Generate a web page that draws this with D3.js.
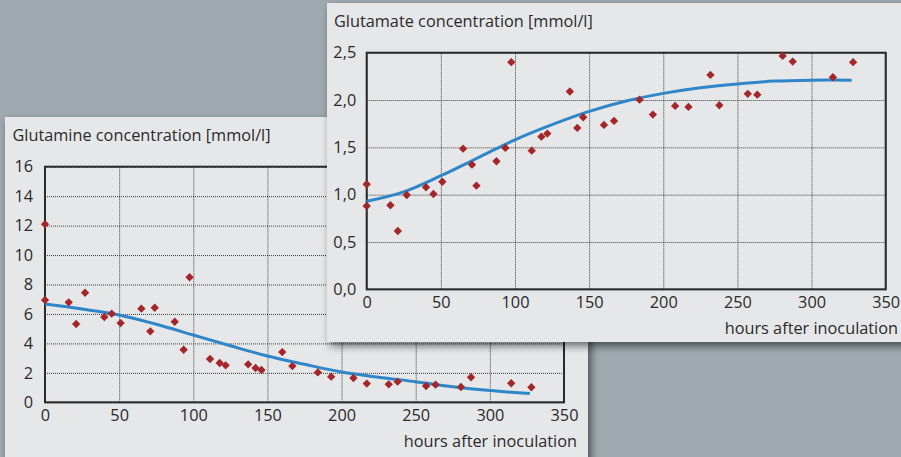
<!DOCTYPE html>
<html>
<head>
<meta charset="utf-8">
<script src="https://cdn.jsdelivr.net/npm/d3@7"></script>
<style>
  html, body { margin: 0; padding: 0; background: #9eaab0; }
  svg { display: block; }
  text { font-family: "Open Sans", "Noto Sans", sans-serif; fill: #2a2a2a; }
</style>
</head>
<body>
<svg id="chart" width="901" height="457"></svg>
<script>
// ---------------- data ----------------
const hours = [0, 0, 16, 21, 27, 40, 45, 51, 65, 71, 74, 87.5, 93.5, 97.5, 111.3, 117.8, 121.8, 137, 142, 146, 160, 166.8, 184, 193, 208, 217, 231.8, 237.8, 257, 263.4, 280.5, 287.3, 314.4, 328];
const glutamine = [12.1, 6.94, 6.79, 5.32, 7.44, 5.79, 6.02, 5.38, 6.36, 4.82, 6.42, 5.47, 3.57, 8.49, 2.94, 2.67, 2.51, 2.58, 2.33, 2.19, 3.41, 2.46, 2.03, 1.74, 1.65, 1.27, 1.22, 1.40, 1.11, 1.20, 1.04, 1.70, 1.29, 1.02];
const glutamate = [1.11, 0.88, 0.888, 0.616, 0.997, 1.078, 1.007, 1.137, 1.486, 1.317, 1.095, 1.353, 1.494, 2.40, 1.465, 1.613, 1.645, 2.09, 1.705, 1.818, 1.737, 1.779, 2.004, 1.846, 1.938, 1.927, 2.265, 1.945, 2.065, 2.057, 2.466, 2.406, 2.24, 2.40];

const fitHours = [0, 25, 50, 75, 100, 125, 150, 175, 200, 225, 250, 275, 300, 327];
const glutamineFit = [6.67, 6.33, 5.93, 5.30, 4.57, 3.84, 3.14, 2.58, 2.06, 1.70, 1.40, 1.06, 0.80, 0.59];
const glutamateFit = [0.93, 1.03, 1.20, 1.39, 1.58, 1.74, 1.88, 1.99, 2.07, 2.13, 2.17, 2.20, 2.21, 2.21];

const xTicks = [0, 50, 100, 150, 200, 250, 300, 350];
const glutamineTicks = [0, 2, 4, 6, 8, 10, 12, 14, 16];
const glutamateTicks = [0, 0.5, 1.0, 1.5, 2.0, 2.5];

const glutamineTitle = "Glutamine concentration [mmol/l]";
const glutamateTitle = "Glutamate concentration [mmol/l]";
const xTitle = "hours after inoculation";

// ---------------- drawing ----------------
const svg = d3.select("#chart");
const commaFmt = d3.formatLocale({decimal: ",", thousands: ".", grouping: [3], currency: ["", ""]}).format(".1f");
const FS = 16.3;

const defs = svg.append("defs");
const f = defs.append("filter").attr("id", "shadow")
  .attr("x", "-10%").attr("y", "-10%").attr("width", "130%").attr("height", "130%");
f.append("feDropShadow").attr("dx", 3).attr("dy", 4).attr("stdDeviation", 4)
  .attr("flood-color", "#000").attr("flood-opacity", 0.55);

svg.append("rect").attr("width", 901).attr("height", 457).attr("fill", "#9eaab0");

const diamond = {
  draw(ctx, size) {
    const r = Math.sqrt(size) / 2;
    ctx.moveTo(0, -r); ctx.lineTo(r, 0); ctx.lineTo(0, r); ctx.lineTo(-r, 0); ctx.closePath();
  }
};

function panel(cfg) {
  const g = svg.append("g");
  g.append("rect")
    .attr("x", cfg.panel[0]).attr("y", cfg.panel[1])
    .attr("width", cfg.panel[2]).attr("height", cfg.panel[3])
    .attr("fill", "#e6e7e9").attr("filter", "url(#shadow)");

  const x = d3.scaleLinear().domain([0, 350]).range([cfg.plot[0], cfg.plot[2]]);
  const y = d3.scaleLinear().domain([0, cfg.yMax]).range([cfg.plot[3], cfg.plot[1]]);
  const w = cfg.plot[2] - cfg.plot[0], h = cfg.plot[3] - cfg.plot[1];

  // grid
  const gridX = g.append("g").attr("transform", `translate(0,${cfg.plot[3]})`)
    .call(d3.axisBottom(x).tickValues(xTicks).tickSize(-h).tickFormat(""));
  const gridY = g.append("g").attr("transform", `translate(${cfg.plot[0]},0)`)
    .call(d3.axisLeft(y).tickValues(cfg.yTicks).tickSize(-w).tickFormat(""));
  [gridX, gridY].forEach(a => {
    a.select(".domain").remove();
    a.selectAll("line").attr("stroke", "#3a3a3a").attr("stroke-width", 1).attr("stroke-dasharray", "1,1");
  });

  // frame
  g.append("rect").attr("x", cfg.plot[0]).attr("y", cfg.plot[1]).attr("width", w).attr("height", h)
    .attr("fill", "none").attr("stroke", "#2a2a2a").attr("stroke-width", 2);

  // tick labels
  const ax = g.append("g").attr("transform", `translate(0,${cfg.plot[3]})`)
    .call(d3.axisBottom(x).tickValues(xTicks).tickSize(0).tickPadding(7).tickFormat(d3.format("d")));
  const ay = g.append("g").attr("transform", `translate(${cfg.plot[0]},0)`)
    .call(d3.axisLeft(y).tickValues(cfg.yTicks).tickSize(0).tickPadding(cfg.yPad).tickFormat(cfg.yFmt));
  [ax, ay].forEach(a => {
    a.select(".domain").remove();
    a.selectAll("text").attr("font-size", FS).attr("fill", "#2a2a2a")
      .attr("font-family", '"Open Sans", "Noto Sans", sans-serif');
  });

  // fit line
  g.append("path")
    .datum(fitHours.map((t, i) => [t, cfg.fit[i]]))
    .attr("fill", "none").attr("stroke", "#2e86c8").attr("stroke-width", 3)
    .attr("d", d3.line().x(d => x(d[0])).y(d => y(d[1])).curve(d3.curveCatmullRom.alpha(0.5)));

  // points
  g.append("g").selectAll("path")
    .data(hours.map((t, i) => [t, cfg.values[i]]))
    .join("path")
    .attr("transform", d => `translate(${x(d[0])},${y(d[1])})`)
    .attr("d", d3.symbol().type(diamond).size(70))
    .attr("fill", "#a3262a");

  // titles
  g.append("text").attr("x", cfg.title[0]).attr("y", cfg.title[1])
    .attr("font-size", FS).text(cfg.titleText);
  g.append("text").attr("x", cfg.xTitle[0]).attr("y", cfg.xTitle[1])
    .attr("text-anchor", "end").attr("font-size", FS).text(xTitle);
}

panel({
  panel: [5, 117, 583, 360],
  plot: [45, 166.7, 564, 402.3],
  yMax: 16, yTicks: glutamineTicks, yFmt: d3.format("d"), yPad: 12,
  values: glutamine, fit: glutamineFit,
  title: [12.5, 140.5], titleText: glutamineTitle,
  xTitle: [577, 446.5]
});

panel({
  panel: [327, 3, 600, 339],
  plot: [366.7, 52.7, 885.7, 289.3],
  yMax: 2.5, yTicks: glutamateTicks, yFmt: commaFmt, yPad: 10.5,
  values: glutamate, fit: glutamateFit,
  title: [334, 26.5], titleText: glutamateTitle,
  xTitle: [898, 333.5]
});
</script>
</body>
</html>
